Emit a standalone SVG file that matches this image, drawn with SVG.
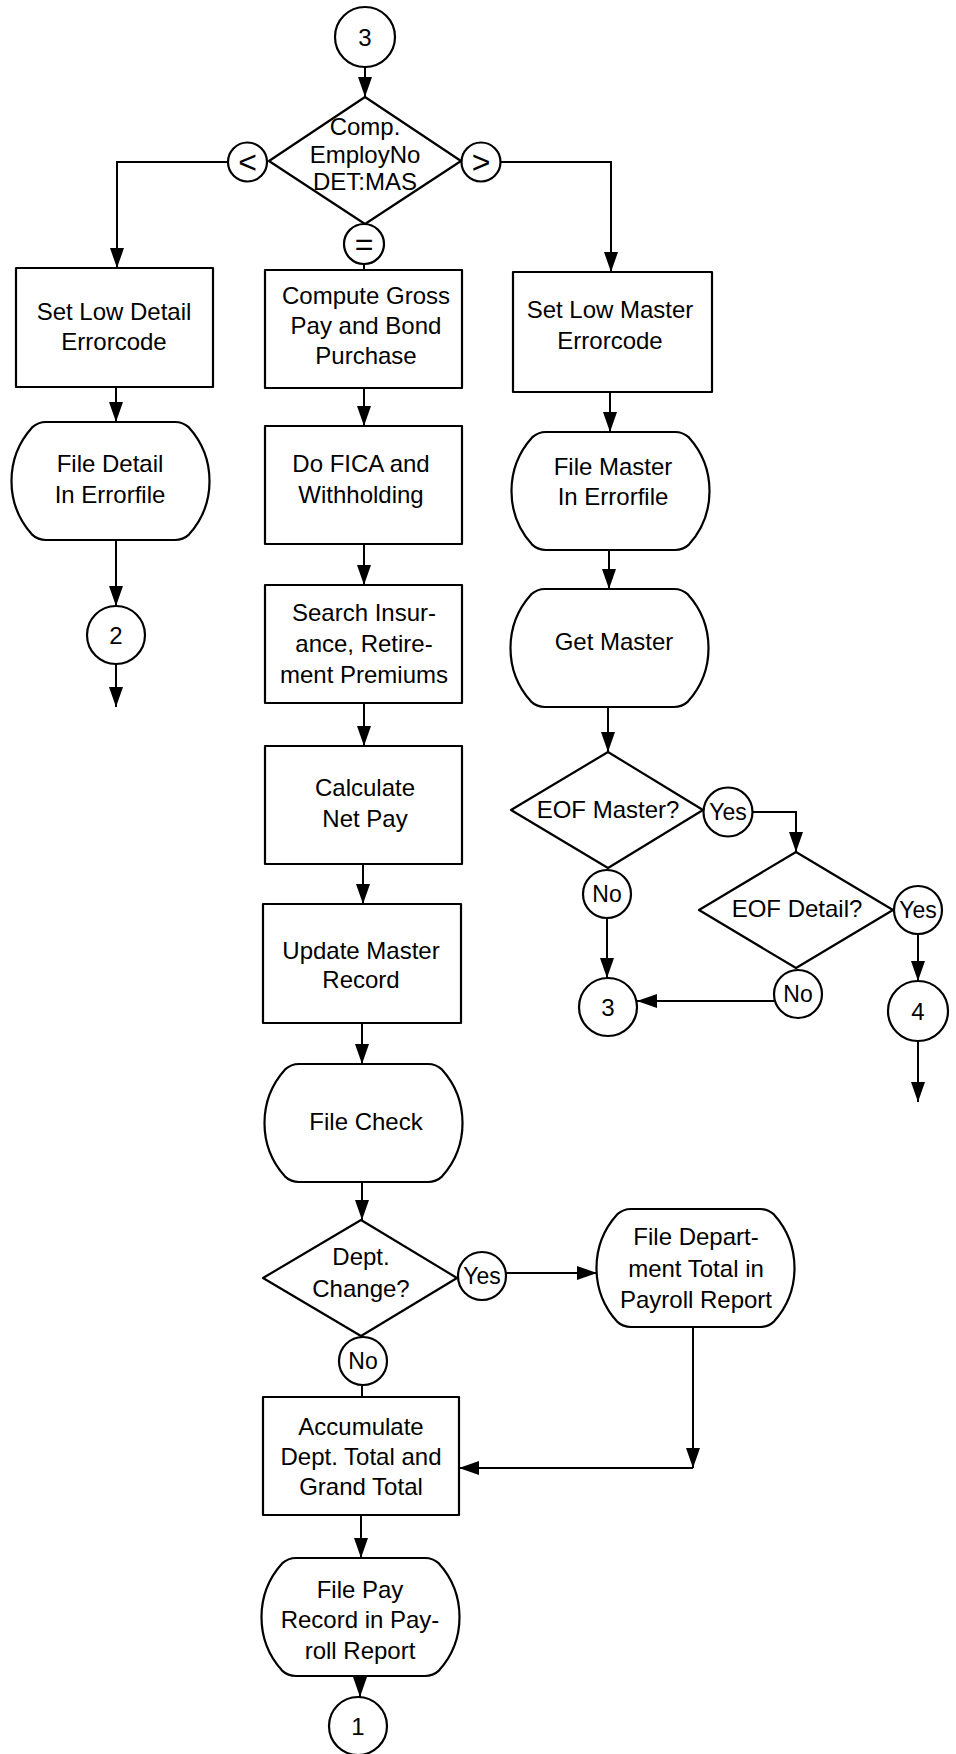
<svg xmlns="http://www.w3.org/2000/svg" width="956" height="1754" viewBox="0 0 956 1754">
  <defs>
    <style>
      .shape{fill:#fff;stroke:#000;stroke-width:2.2;stroke-linejoin:round}
      .wire{fill:none;stroke:#000;stroke-width:2}
      .arrow{marker-end:url(#ah)}
      text{font-family:"Liberation Sans",Arial,sans-serif;font-size:24px;fill:#000;text-anchor:middle}
      .sm{font-size:23px}
      .op{font-size:32px}
    </style>
    <marker id="ah" markerUnits="userSpaceOnUse" markerWidth="20" markerHeight="14" refX="20" refY="7" orient="auto">
      <path d="M0,0 L20,7 L0,14 Z" fill="#000"/>
    </marker>
    <!-- terminal / file symbol: flat top and bottom, bulging sides -->
    <path id="term" d="M34,0 H163 Q171,0 176.9,5.4 A80 80 0 0 1 176.9,112.6 Q171,118 163,118 H34 Q26,118 20.1,112.6 A80 80 0 0 1 20.1,5.4 Q26,0 34,0 Z"/>
  </defs>

  <rect x="0" y="0" width="956" height="1754" fill="#fff"/>

  <!-- connectors -->
  <g id="connectors">
    <path class="wire arrow" d="M365,67 V97"/>
    <path class="wire arrow" d="M228,162 H117 V268"/>
    <path class="wire arrow" d="M500.5,162 H611 V272"/>
    <path class="wire" d="M364,264 V270"/>
    <path class="wire arrow" d="M116,387 V422"/>
    <path class="wire arrow" d="M116,540 V606"/>
    <path class="wire arrow" d="M116,664 V707"/>
    <path class="wire arrow" d="M364,388 V426"/>
    <path class="wire arrow" d="M364,544 V585"/>
    <path class="wire arrow" d="M364,703 V746"/>
    <path class="wire arrow" d="M363,864 V904"/>
    <path class="wire arrow" d="M362,1023 V1064"/>
    <path class="wire arrow" d="M362,1182 V1220"/>
    <path class="wire arrow" d="M506,1273 H597"/>
    <path class="wire" d="M362,1385 V1397"/>
    <path class="wire arrow" d="M693,1327 V1468"/>
    <path class="wire arrow" d="M693,1468 H459"/>
    <path class="wire arrow" d="M361,1515 V1558"/>
    <path class="wire arrow" d="M360,1676 V1697"/>
    <path class="wire arrow" d="M610,392 V432"/>
    <path class="wire arrow" d="M609,550 V589"/>
    <path class="wire arrow" d="M608,707 V752"/>
    <path class="wire arrow" d="M753,812 H796 V852"/>
    <path class="wire arrow" d="M607,918 V978"/>
    <path class="wire arrow" d="M774,1001 H637"/>
    <path class="wire arrow" d="M918,934 V981"/>
    <path class="wire arrow" d="M918,1041 V1102"/>
  </g>

  <!-- entry connector -->
  <g id="entry-3">
    <circle class="shape" cx="365" cy="37" r="30"/>
    <text x="365" y="45.5">3</text>
  </g>

  <!-- compare employee numbers -->
  <g id="compare-employno">
    <polygon class="shape" points="365,97 461,161 365,224 269,161"/>
    <text x="365" y="135">Comp.</text>
    <text x="365" y="163">EmployNo</text>
    <text x="365" y="190">DET:MAS</text>
  </g>
  <g id="branch-lt">
    <circle class="shape" cx="247.5" cy="162" r="19.5"/>
    <text class="op" x="247.5" y="173">&lt;</text>
  </g>
  <g id="branch-gt">
    <circle class="shape" cx="481" cy="162" r="19.5"/>
    <text class="op" x="481" y="173">&gt;</text>
  </g>
  <g id="branch-eq">
    <circle class="shape" cx="364" cy="244" r="20"/>
    <text class="op" x="364" y="255">=</text>
  </g>

  <!-- low detail branch -->
  <g id="set-low-detail">
    <rect class="shape" x="16" y="268" width="197" height="119"/>
    <text x="114" y="320">Set Low Detail</text>
    <text x="114" y="350">Errorcode</text>
  </g>
  <g id="file-detail">
    <use href="#term" class="shape" transform="translate(12,422)"/>
    <text x="110" y="472">File Detail</text>
    <text x="110" y="503">In Errorfile</text>
  </g>
  <g id="exit-2">
    <circle class="shape" cx="116" cy="635" r="29"/>
    <text x="116" y="643.5">2</text>
  </g>

  <!-- matching records branch -->
  <g id="compute-gross">
    <rect class="shape" x="265" y="270" width="197" height="118"/>
    <text x="366" y="304">Compute Gross</text>
    <text x="366" y="334">Pay and Bond</text>
    <text x="366" y="364">Purchase</text>
  </g>
  <g id="fica-withholding">
    <rect class="shape" x="265" y="426" width="197" height="118"/>
    <text x="361" y="472">Do FICA and</text>
    <text x="361" y="503">Withholding</text>
  </g>
  <g id="search-premiums">
    <rect class="shape" x="265" y="585" width="197" height="118"/>
    <text x="364" y="621">Search Insur-</text>
    <text x="364" y="652">ance, Retire-</text>
    <text x="364" y="683">ment Premiums</text>
  </g>
  <g id="calculate-net">
    <rect class="shape" x="265" y="746" width="197" height="118"/>
    <text x="365" y="796">Calculate</text>
    <text x="365" y="827">Net Pay</text>
  </g>
  <g id="update-master">
    <rect class="shape" x="263" y="904" width="198" height="119"/>
    <text x="361" y="959">Update Master</text>
    <text x="361" y="988">Record</text>
  </g>
  <g id="file-check">
    <use href="#term" class="shape" transform="translate(265,1064)"/>
    <text x="366" y="1130">File Check</text>
  </g>
  <g id="dept-change">
    <polygon class="shape" points="361,1220 457,1278 361,1336 263,1278"/>
    <text x="361" y="1265">Dept.</text>
    <text x="361" y="1297">Change?</text>
  </g>
  <g id="dept-yes">
    <circle class="shape" cx="482" cy="1276" r="24"/>
    <text class="sm" x="482" y="1284">Yes</text>
  </g>
  <g id="dept-no">
    <circle class="shape" cx="363" cy="1361" r="24"/>
    <text class="sm" x="363" y="1369">No</text>
  </g>
  <g id="file-dept-total">
    <use href="#term" class="shape" transform="translate(597,1209)"/>
    <text x="696" y="1245">File Depart-</text>
    <text x="696" y="1277">ment Total in</text>
    <text x="696" y="1308">Payroll Report</text>
  </g>
  <g id="accumulate-totals">
    <rect class="shape" x="263" y="1397" width="196" height="118"/>
    <text x="361" y="1435">Accumulate</text>
    <text x="361" y="1465">Dept. Total and</text>
    <text x="361" y="1495">Grand Total</text>
  </g>
  <g id="file-pay-record">
    <use href="#term" class="shape" transform="translate(262,1558)"/>
    <text x="360" y="1598">File Pay</text>
    <text x="360" y="1628">Record in Pay-</text>
    <text x="360" y="1659">roll Report</text>
  </g>
  <g id="exit-1">
    <circle class="shape" cx="358" cy="1726" r="29"/>
    <text x="358" y="1734.5">1</text>
  </g>

  <!-- low master branch -->
  <g id="set-low-master">
    <rect class="shape" x="513" y="272" width="199" height="120"/>
    <text x="610" y="318">Set Low Master</text>
    <text x="610" y="349">Errorcode</text>
  </g>
  <g id="file-master">
    <use href="#term" class="shape" transform="translate(512,432)"/>
    <text x="613" y="475">File Master</text>
    <text x="613" y="505">In Errorfile</text>
  </g>
  <g id="get-master">
    <use href="#term" class="shape" transform="translate(511,589)"/>
    <text x="614" y="650">Get Master</text>
  </g>
  <g id="eof-master">
    <polygon class="shape" points="608,752 703,810 608,868 511,810"/>
    <text x="608" y="818">EOF Master?</text>
  </g>
  <g id="eof-master-yes">
    <circle class="shape" cx="728" cy="812" r="24.5"/>
    <text class="sm" x="728" y="820">Yes</text>
  </g>
  <g id="eof-master-no">
    <circle class="shape" cx="607" cy="894" r="24"/>
    <text class="sm" x="607" y="902">No</text>
  </g>
  <g id="eof-detail">
    <polygon class="shape" points="796,852 893,910 796,968 699,910"/>
    <text x="797" y="917">EOF Detail?</text>
  </g>
  <g id="eof-detail-yes">
    <circle class="shape" cx="918" cy="910" r="24"/>
    <text class="sm" x="918" y="918">Yes</text>
  </g>
  <g id="eof-detail-no">
    <circle class="shape" cx="798" cy="994" r="24"/>
    <text class="sm" x="798" y="1002">No</text>
  </g>
  <g id="loop-3">
    <circle class="shape" cx="608" cy="1007" r="29"/>
    <text x="608" y="1015.5">3</text>
  </g>
  <g id="exit-4">
    <circle class="shape" cx="918" cy="1011" r="30"/>
    <text x="918" y="1019.5">4</text>
  </g>
</svg>
